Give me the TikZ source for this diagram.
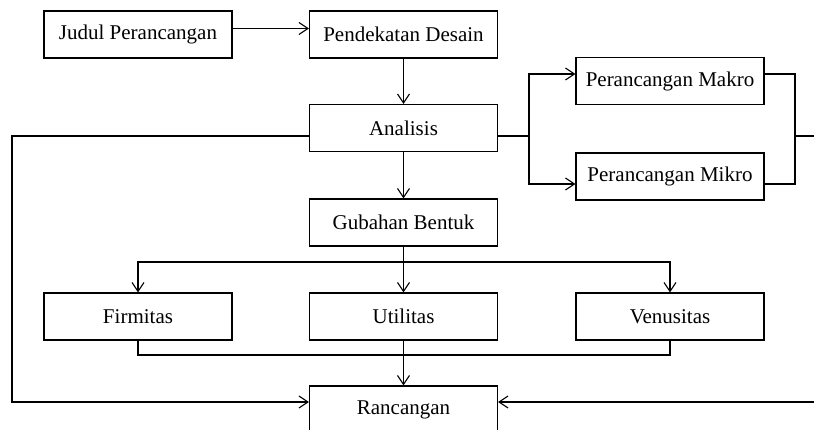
\documentclass[tikz,border=0pt]{standalone}
\usepackage{fontspec}
\setmainfont{Liberation Serif}
\usetikzlibrary{arrows.meta,calc}
\begin{document}
\begin{tikzpicture}[x=1pt,y=-1pt,
  box/.style={draw=black,line width=1.1pt,minimum width=188pt,minimum height=47pt,inner sep=0pt,font=\fontsize{21}{24}\selectfont},
  conn/.style={line width=1.1pt,black},
  arr/.style={conn,-{Straight Barb[length=9pt,width=12pt,line width=1.1pt]}}]
\clip (0,0) rectangle (814,430);
\fill[white] (0,0) rectangle (814,430);
\node[box] (judul) at (138,34.5) {Judul Perancangan};
\node[box] (pend) at (403.5,34.5) {Pendekatan Desain};
\node[box] (anal) at (403.5,128) {Analisis};
\node[box] (gub) at (403.5,222.5) {Gubahan Bentuk};
\node[box] (makro) at (670,81) {Perancangan Makro};
\node[box] (mikro) at (670,176.5) {Perancangan Mikro};
\node[box] (firm) at (138,316.5) {Firmitas};
\node[box] (util) at (403.5,316.5) {Utilitas};
\node[box] (venu) at (670,316.5) {Venusitas};
\node[box] (ranc) at (403.5,409.5) {Rancangan};
% top
\draw[arr] ($(judul.east)+(0,-6)$) -- ($(pend.west)+(0,-6)$);
\draw[arr] (pend.south) -- (anal.north);
\draw[arr] (anal.south) -- (gub.north);
% macro/micro
\coordinate (split) at (529,136);
\draw[conn] ($(anal.east)+(0,8)$) -- (split);
\draw[arr] (split) |- ($(makro.west)+(0,-7)$);
\draw[arr] (split) |- ($(mikro.west)+(0,7.5)$);
\coordinate (rj) at (795,136);
\coordinate (redge) at (814,136);
\draw[conn] ($(makro.east)+(0,-7)$) -| (rj) |- ($(mikro.east)+(0,7.5)$);
\draw[conn] (rj) -- (redge);
% left loop
\coordinate (lc) at (12,136);
\draw[arr] ($(anal.west)+(0,8)$) -- (lc) |- ($(ranc.west)+(0,-7.5)$);
% right bottom
\coordinate (rbe) at (814,402);
\draw[arr] (rbe) -- ($(ranc.east)+(0,-7.5)$);
% branch
\coordinate (br) at (403.5,262);
\draw[conn] (gub.south) -- (br);
\draw[arr] (br) -- (util.north);
\draw[arr] (br) -| (firm.north);
\draw[arr] (br) -| (venu.north);
% merge
\coordinate (mg) at (403.5,355);
\draw[conn] (firm.south) |- (mg) -| (venu.south);
\draw[arr] (util.south) -- (ranc.north);
\end{tikzpicture}
\end{document}
